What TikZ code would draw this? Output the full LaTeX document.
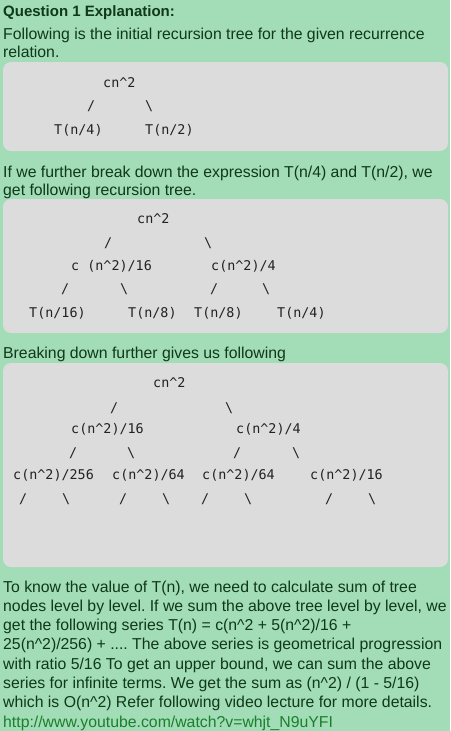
\documentclass[tikz,border=0pt]{standalone}
\usepackage{fontspec}
\setmainfont{Liberation Sans}
\setmonofont{DejaVu Sans Mono}
\usepackage{tikz}
\definecolor{qBack}{HTML}{A2DDB7}
\definecolor{qInk}{HTML}{10381A}
\definecolor{qBox}{HTML}{DCDCDC}
\definecolor{qCode}{HTML}{222222}
\definecolor{qLink}{HTML}{1B7F2C}
\newcommand{\bodyfont}{\frenchspacing\fontsize{15.8}{19}\selectfont}
\newcommand{\codefont}{\fontsize{13.4}{16}\selectfont\ttfamily}
\newcommand{\crt}{\textasciicircum}
\newcommand{\bsl}{\textbackslash}

\begin{document}
\begin{tikzpicture}[
  x=1pt, y=-1pt,
  para/.style={anchor=base west, inner sep=0pt, text=qInk, font=\bodyfont},
  code/.style={anchor=base west, inner sep=0pt, text=qCode, font=\codefont},
  codebox/.style={fill=qBox, rounded corners=8pt}
]
  \fill[qBack] (0,0) rectangle (450,731);
  \useasboundingbox (0,0) rectangle (450,731);

  % heading and intro
  \node[para, font=\frenchspacing\fontsize{15}{19}\selectfont\bfseries] (head) at (3,16) {Question 1 Explanation:};
  \node[para] (intro1) at (3,39) {Following is the initial recursion tree for the given recurrence};
  \node[para] (intro2) at (3,57) {relation.};

  % first tree
  \fill[codebox] (3,62) rectangle (448,151);
  \node[code] (t1root) at (103,87) {cn\crt2};
  \node[code] (t1sl) at (87,110) {/};
  \node[code] (t1sr) at (145,110) {\bsl};
  \node[code] (t1l) at (54,134) {T(n/4)};
  \node[code] (t1r) at (145,134) {T(n/2)};

  \node[para] (mid1) at (3,177) {If we further break down the expression T(n/4) and T(n/2), we};
  \node[para] (mid2) at (3,195) {get following recursion tree.};

  % second tree
  \fill[codebox] (3,199) rectangle (448,333);
  \node[code] (t2root) at (137,223) {cn\crt2};
  \node[code] (t2sl) at (104,247) {/};
  \node[code] (t2sr) at (204,247) {\bsl};
  \node[code] (t2l) at (71,270) {c (n\crt2)/16};
  \node[code] (t2r) at (211,270) {c(n\crt2)/4};
  \foreach \x/\s in {61/{/}, 120/\bsl, 210/{/}, 262/\bsl}
    \node[code] at (\x,293) {\s};
  \node[code] (t2a) at (29,317) {T(n/16)};
  \node[code] (t2b) at (128,317) {T(n/8)};
  \node[code] (t2c) at (194,317) {T(n/8)};
  \node[code] (t2d) at (277,317) {T(n/4)};

  \node[para] (mid3) at (3,358) {Breaking down further gives us following};

  % third tree
  \fill[codebox] (3,363) rectangle (448,567);
  \node[code] (t3root) at (153,387) {cn\crt2};
  \node[code] (t3sl) at (110,412) {/};
  \node[code] (t3sr) at (225,412) {\bsl};
  \node[code] (t3l) at (71,433) {c(n\crt2)/16};
  \node[code] (t3r) at (236,433) {c(n\crt2)/4};
  \foreach \x/\s in {69/{/}, 127/\bsl, 233/{/}, 292/\bsl}
    \node[code] at (\x,457) {\s};
  \node[code] (t3a) at (13,479) {c(n\crt2)/256};
  \node[code] (t3b) at (112,479) {c(n\crt2)/64};
  \node[code] (t3c) at (202,479) {c(n\crt2)/64};
  \node[code] (t3d) at (310,479) {c(n\crt2)/16};
  \foreach \x/\s in {19/{/}, 62/\bsl, 119/{/}, 162/\bsl, 201/{/}, 244/\bsl, 325/{/}, 368/\bsl}
    \node[code] at (\x,503) {\s};

  % closing paragraph
  \node[para] (end1) at (3,592) {To know the value of T(n), we need to calculate sum of tree};
  \node[para] (end2) at (3,611.3) {nodes level by level. If we sum the above tree level by level, we};
  \node[para] (end3) at (3,630.6) {get the following series T(n) = c(n\crt2 + 5(n\crt2)/16 +};
  \node[para] (end4) at (3,649.9) {25(n\crt2)/256) + .... The above series is geometrical progression};
  \node[para] (end5) at (3,669.2) {with ratio 5/16 To get an upper bound, we can sum the above};
  \node[para] (end6) at (3,688.5) {series for infinite terms. We get the sum as (n\crt2) / (1 - 5/16)};
  \node[para] (end7) at (3,707.8) {which is O(n\crt2) Refer following video lecture for more details.};
  \node[para, text=qLink] (link) at (3,727.1) {http://www.youtube.com/watch?v=whjt\_N9uYFI};
\end{tikzpicture}
\end{document}
